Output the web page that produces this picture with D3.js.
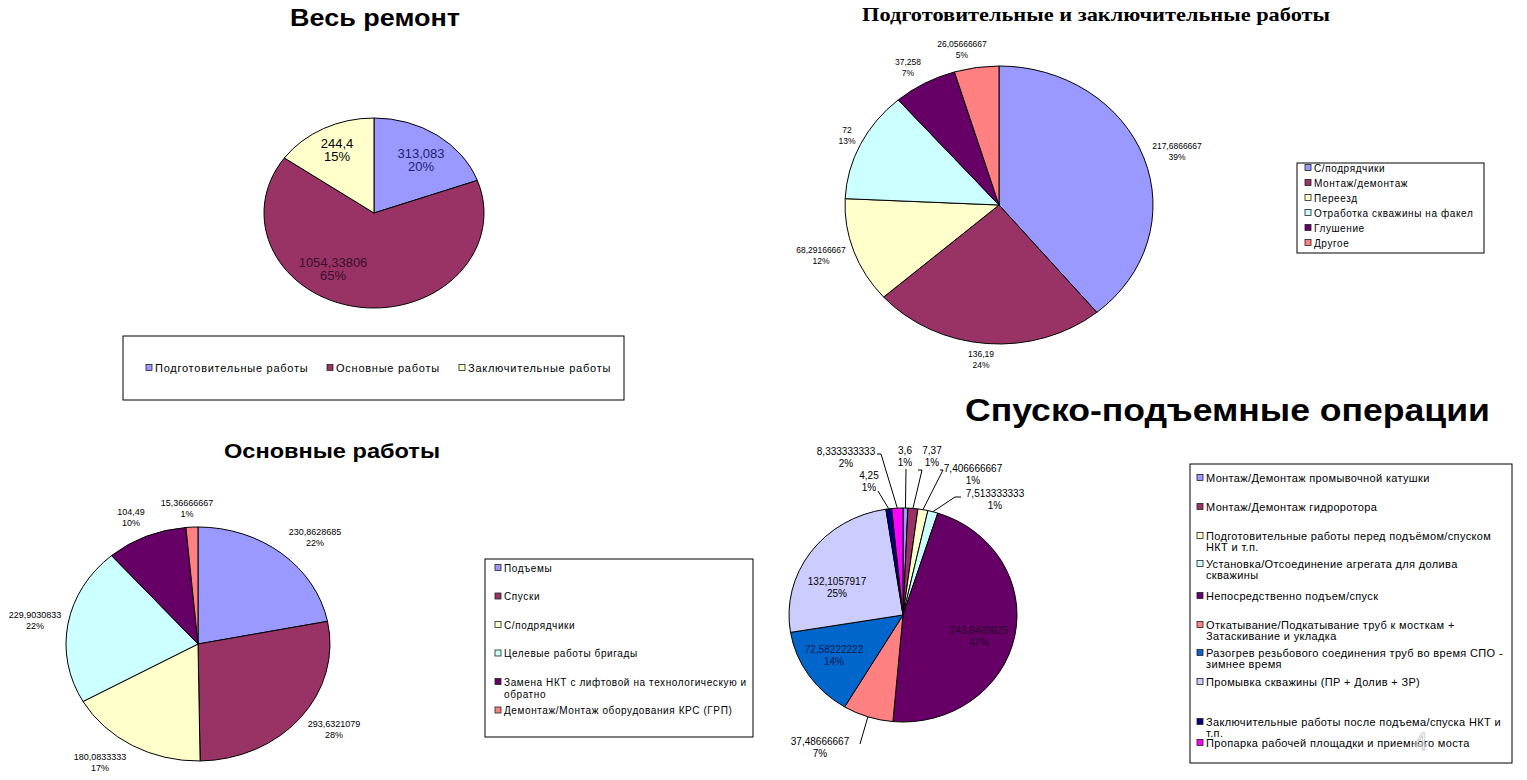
<!DOCTYPE html>
<html>
<head>
<meta charset="utf-8">
<script src="https://cdn.jsdelivr.net/npm/d3@7"></script>
<style>
  body { margin: 0; background: #fff; }
  text { font-family: "Liberation Sans", Arial, sans-serif; }
</style>
</head>
<body>
<svg id="chart" width="1527" height="780"></svg>
<script>
// excel classic palette
const palette = ["#9999FF", "#993366", "#FFFFCC", "#CCFFFF", "#660066",
                 "#FF8080", "#0066CC", "#CCCCFF", "#000080", "#FF00FF"];

const repairCategories = ["Подготовительные работы", "Основные работы", "Заключительные работы"];
const repairValues = [313.083, 1054.33806, 244.4];

const prepCategories = ["С/подрядчики", "Монтаж/демонтаж", "Переезд",
  "Отработка скважины на факел", "Глушение", "Другое"];
const prepValues = [217.6866667, 136.19, 68.29166667, 72, 37.258, 26.05666667];

const mainCategories = ["Подъемы", "Спуски", "С/подрядчики", "Целевые работы бригады",
  "Замена НКТ с лифтовой на технологическую и обратно",
  "Демонтаж/Монтаж оборудования КРС (ГРП)"];
const mainValues = [230.8628685, 293.6321079, 180.0833333, 229.9030833, 104.49, 15.36666667];

const spoCategories = [
  "Монтаж/Демонтаж промывочной катушки",
  "Монтаж/Демонтаж гидроротора",
  "Подготовительные работы перед подъёмом/спуском НКТ и т.п.",
  "Установка/Отсоединение агрегата для долива скважины",
  "Непосредственно подъем/спуск",
  "Откатывание/Подкатывание труб к мосткам + Затаскивание и укладка",
  "Разогрев резьбового соединения труб во время СПО - зимнее время",
  "Промывка скважины  (ПР + Долив + ЗР)",
  "Заключительные работы после подъема/спуска НКТ и т.п.",
  "Пропарка рабочей площадки и приемного моста"];
const spoValues = [3.6, 7.37, 7.406666667, 7.513333333, 243.6469625,
  37.48666667, 72.58222222, 132.1057917, 4.25, 8.333333333];

const svg = d3.select("#chart");
svg.append("rect").attr("width", 1527).attr("height", 780).attr("fill", "#fff");

// excel-style percentages (largest remainder so they add to 100)
function percents(values) {
  const total = d3.sum(values);
  const raw = values.map(v => v / total * 100);
  const out = raw.map(Math.floor);
  let left = 100 - d3.sum(out);
  const order = d3.range(raw.length).sort((a, b) => (raw[b] - out[b]) - (raw[a] - out[a]));
  for (let k = 0; k < left; k++) out[order[k]] += 1;
  return out;
}

function fmt(v) { return String(v).replace(".", ","); }

function drawPie(cfg) {
  const pie = d3.pie().sort(null).value(d => d);
  const arcs = pie(cfg.values);
  const arc = d3.arc().innerRadius(0).outerRadius(cfg.rx);
  const g = svg.append("g").attr("transform", `translate(${cfg.cx},${cfg.cy})`);
  g.append("g")
    .attr("transform", `scale(1,${cfg.ry / cfg.rx})`)
    .selectAll("path")
    .data(arcs)
    .enter()
    .append("path")
    .attr("d", arc)
    .attr("fill", (d, i) => palette[i])
    .attr("stroke", "#000")
    .attr("stroke-width", 1)
    .attr("vector-effect", "non-scaling-stroke");

  const pct = percents(cfg.values);
  arcs.forEach(function (d, i) {
    const p = cfg.labels[i];
    const t = svg.append("text")
      .attr("x", p[0]).attr("y", p[1])
      .attr("text-anchor", "middle")
      .attr("font-size", cfg.fontSize)
      .attr("fill", cfg.labelColors ? cfg.labelColors[i] : "#000");
    t.append("tspan").attr("x", p[0]).text(fmt(cfg.values[i]));
    t.append("tspan").attr("x", p[0]).attr("dy", cfg.lineH).text(pct[i] + "%");

    if (cfg.leaders && cfg.leaders[i]) {
      const l = cfg.leaders[i];
      const a = (d.startAngle + d.endAngle) / 2;
      const ex = cfg.cx + cfg.rx * Math.sin(a);
      const ey = cfg.cy - cfg.ry * Math.cos(a);
      svg.append("path")
        .attr("d", `M${l[0]},${l[1]}L${l[0] + l[2]},${l[1]}L${ex},${ey}`)
        .attr("fill", "none")
        .attr("stroke", "#000")
        .attr("stroke-width", 1);
    }
  });
}

// word wrap by measured width
function wrapText(textSel, str, x, maxW, lineH) {
  const words = str.split(" ");
  let line = [];
  let tspan = textSel.append("tspan").attr("x", x);
  words.forEach(function (w) {
    line.push(w);
    tspan.text(line.join(" "));
    if (tspan.node().getComputedTextLength() > maxW && line.length > 1) {
      line.pop();
      tspan.text(line.join(" "));
      line = [w];
      tspan = textSel.append("tspan").attr("x", x).attr("dy", lineH).text(w);
    }
  });
}

function drawLegend(cfg) {
  svg.append("rect")
    .attr("x", cfg.box[0]).attr("y", cfg.box[1])
    .attr("width", cfg.box[2] - cfg.box[0]).attr("height", cfg.box[3] - cfg.box[1])
    .attr("fill", "#fff").attr("stroke", "#000").attr("stroke-width", 1);
  cfg.categories.forEach(function (c, i) {
    const x = cfg.xs ? cfg.xs[i] : cfg.x;
    const y = cfg.ys ? cfg.ys[i] : cfg.y0 + cfg.step * i;
    svg.append("rect")
      .attr("x", x).attr("y", y - cfg.sw / 2 - 0.5)
      .attr("width", cfg.sw).attr("height", cfg.sw)
      .attr("fill", palette[i]).attr("stroke", "#222").attr("stroke-width", 0.8);
    const t = svg.append("text")
      .attr("y", y + cfg.fontSize * 0.36)
      .attr("font-size", cfg.fontSize)
      .attr("letter-spacing", cfg.ls || 0)
      .attr("fill", "#000");
    wrapText(t, c, x + cfg.sw + 3, cfg.maxW || 9999, cfg.lineH || 11);
  });
}

// ---------- Весь ремонт ----------
svg.append("text").attr("x", 375).attr("y", 26).attr("text-anchor", "middle")
  .attr("font-size", 23).attr("font-weight", "bold")
  .attr("textLength", 170).attr("lengthAdjust", "spacingAndGlyphs")
  .text("Весь ремонт");

drawPie({
  cx: 374, cy: 213, rx: 110, ry: 95,
  values: repairValues,
  labels: [[421, 158], [333, 267], [337, 148]],
  labelColors: ["#22226e", "#3a0f28", "#000"],
  fontSize: 13, lineH: 12.5
});

drawLegend({
  box: [123, 336, 624, 400],
  categories: repairCategories,
  xs: [146, 327, 459], ys: [368, 368, 368],
  sw: 6, fontSize: 11, ls: 0.75
});

// ---------- Подготовительные и заключительные работы ----------
svg.append("text").attr("x", 862).attr("y", 21)
  .style("font-family", "'Liberation Serif', 'Times New Roman', serif")
  .attr("font-size", 19).attr("font-weight", "bold")
  .attr("textLength", 468).attr("lengthAdjust", "spacingAndGlyphs")
  .text("Подготовительные и заключительные работы");

drawPie({
  cx: 999, cy: 205, rx: 154, ry: 139,
  values: prepValues,
  labels: [[1177, 149], [981, 357], [821, 253], [847, 133], [908, 65], [962, 47]],
  fontSize: 8.5, lineH: 11
});

drawLegend({
  box: [1297, 163, 1484, 253],
  categories: prepCategories,
  x: 1305, y0: 168, step: 15,
  sw: 6, fontSize: 10, ls: 0.6
});

// ---------- Основные работы ----------
svg.append("text").attr("x", 332).attr("y", 458).attr("text-anchor", "middle")
  .attr("font-size", 20).attr("font-weight", "bold")
  .attr("textLength", 216).attr("lengthAdjust", "spacingAndGlyphs")
  .text("Основные работы");

drawPie({
  cx: 198, cy: 644, rx: 132, ry: 117,
  values: mainValues,
  labels: [[315, 535], [334, 727], [100, 760], [35, 618], [131, 515], [187, 506]],
  fontSize: 9, lineH: 11
});

drawLegend({
  box: [485, 559, 753, 737],
  categories: mainCategories,
  x: 495, y0: 568, step: 28.5,
  sw: 6, fontSize: 10, ls: 0.6, maxW: 250, lineH: 12
});

// ---------- Спуско-подъемные операции ----------
svg.append("text").attr("x", 965).attr("y", 421)
  .attr("font-size", 31).attr("font-weight", "bold")
  .attr("textLength", 525).attr("lengthAdjust", "spacingAndGlyphs")
  .text("Спуско-подъемные операции");

drawPie({
  cx: 903, cy: 615, rx: 114, ry: 107,
  values: spoValues,
  labels: [[905, 454], [932, 454], [973, 472], [995, 497], [979, 634],
           [820, 745], [834, 653], [837, 585], [869, 479], [846, 455]],
  labelColors: ["#000", "#000", "#000", "#000", "#2a0a2a",
                "#000", "#0a1a55", "#000", "#000", "#000"],
  leaders: [[906, 469, 0], [918, 470, 4], [940, 470, 3], [961, 497, -6], null,
            [860, 744, 0], null, null, [878, 491, 0], [877, 454, 4]],
  fontSize: 10, lineH: 12
});

drawLegend({
  box: [1190, 464, 1512, 763],
  categories: spoCategories,
  x: 1197, ys: [478, 507, 536, 564, 596, 625, 653, 682, 722, 743],
  sw: 6, fontSize: 11, ls: 0.35, maxW: 303, lineH: 11.5
});

// slide number
svg.append("text").attr("x", 1414).attr("y", 750)
  .attr("font-size", 24).attr("fill", "none")
  .attr("stroke", "#c8c8c8").attr("stroke-width", 0.8)
  .text("4");
</script>
</body>
</html>
